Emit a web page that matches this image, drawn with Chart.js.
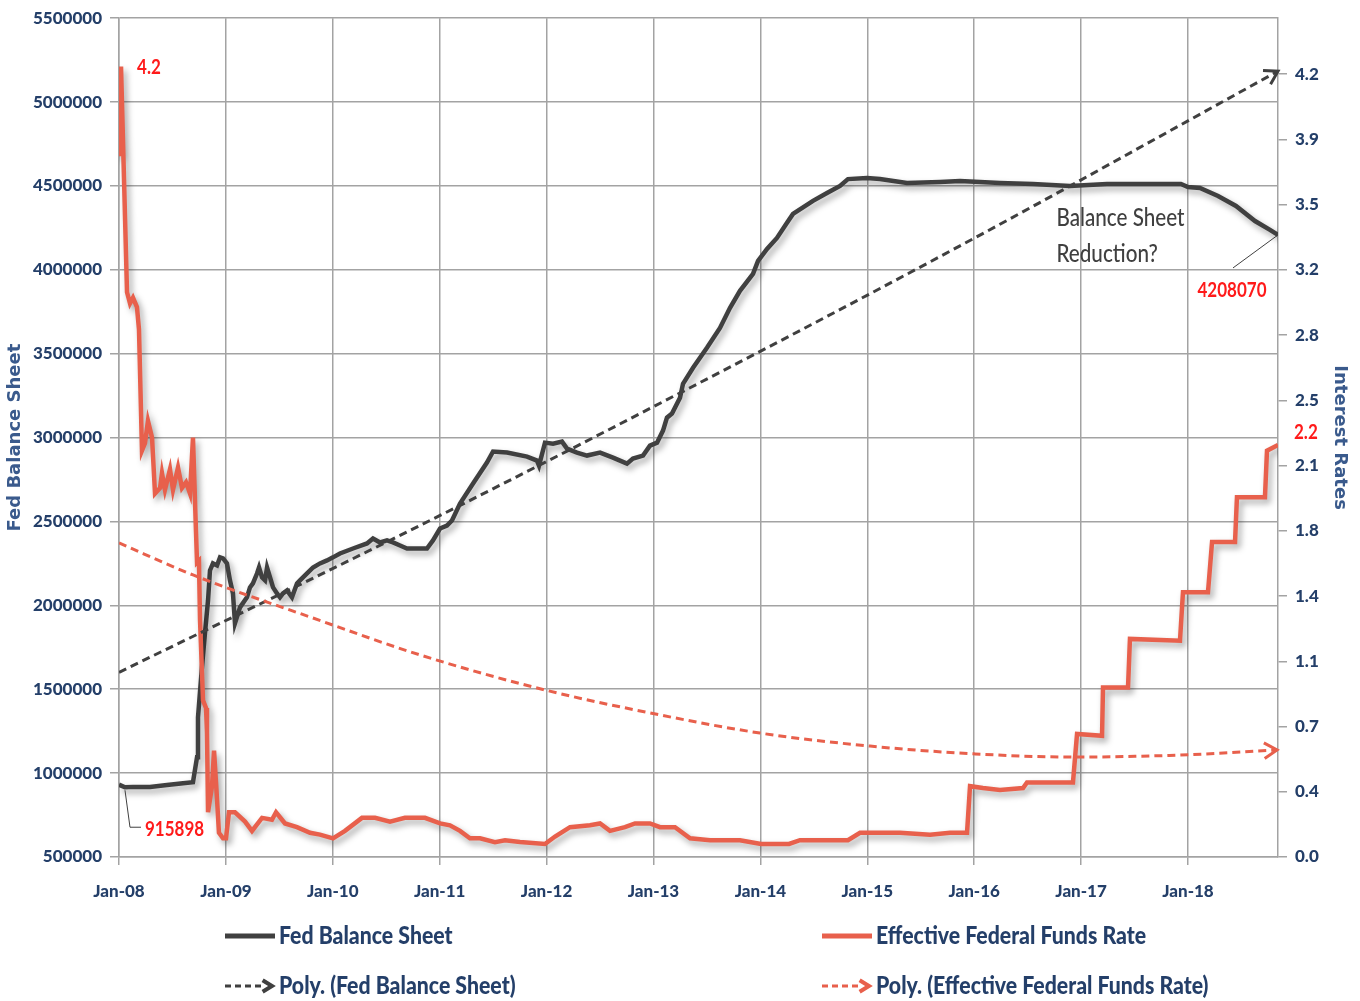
<!DOCTYPE html>
<html>
<head>
<meta charset="utf-8">
<title>Fed Balance Sheet vs Effective Federal Funds Rate</title>
<script src="https://cdn.jsdelivr.net/npm/chart.js@4.4.1/dist/chart.umd.min.js"></script>
<style>
  html, body { margin: 0; padding: 0; background: #fff; }
  #wrap { width: 1360px; height: 1001px; }
</style>
</head>
<body>
<div id="wrap"><canvas id="myChart" width="1360" height="1001"></canvas></div>
<script>
"use strict";

// Fed balance sheet (millions), x = decimal year
const fedYears = [
  2008.000, 2008.056, 2008.131, 2008.290, 2008.449, 2008.599, 2008.692, 2008.730, 2008.739, 2008.776,
  2008.804, 2008.833, 2008.851, 2008.879, 2008.917, 2008.945, 2008.973, 2009.010, 2009.038, 2009.066,
  2009.085, 2009.132, 2009.197, 2009.225, 2009.253, 2009.291, 2009.310, 2009.338, 2009.366, 2009.385,
  2009.413, 2009.441, 2009.478, 2009.506, 2009.534, 2009.572, 2009.618, 2009.665, 2009.693, 2009.759,
  2009.815, 2009.880, 2009.946, 2010.002, 2010.067, 2010.189, 2010.320, 2010.376, 2010.442, 2010.507,
  2010.563, 2010.629, 2010.694, 2010.816, 2010.881, 2010.937, 2011.003, 2011.068, 2011.115, 2011.190,
  2011.312, 2011.442, 2011.499, 2011.630, 2011.817, 2011.910, 2011.929, 2011.985, 2012.060, 2012.144,
  2012.191, 2012.284, 2012.378, 2012.500, 2012.621, 2012.752, 2012.808, 2012.902, 2012.967, 2013.033,
  2013.089, 2013.126, 2013.173, 2013.248, 2013.276, 2013.370, 2013.500, 2013.622, 2013.716, 2013.809,
  2013.931, 2013.978, 2014.062, 2014.155, 2014.249, 2014.305, 2014.492, 2014.623, 2014.745, 2014.819,
  2014.997, 2015.119, 2015.371, 2015.680, 2015.867, 2016.241, 2016.550, 2016.896, 2017.242, 2017.645,
  2017.934, 2018.000, 2018.112, 2018.281, 2018.449, 2018.627, 2018.767, 2018.842
];
const fedValues = [
  931000, 915898, 918000, 917000, 929000, 940000, 946000, 1095000, 1333000, 1631000,
  1833000, 2030000, 2208000, 2250000, 2238000, 2286000, 2280000, 2250000, 2149000, 2071000,
  1893000, 1988000, 2048000, 2107000, 2131000, 2190000, 2226000, 2167000, 2149000, 2226000,
  2167000, 2107000, 2071000, 2048000, 2071000, 2089000, 2048000, 2131000, 2149000, 2190000,
  2226000, 2250000, 2268000, 2286000, 2309000, 2339000, 2369000, 2399000, 2375000, 2387000,
  2375000, 2357000, 2339000, 2339000, 2339000, 2387000, 2458000, 2476000, 2506000, 2607000,
  2726000, 2851000, 2917000, 2911000, 2887000, 2863000, 2833000, 2970000, 2964000, 2976000,
  2934000, 2911000, 2893000, 2911000, 2881000, 2845000, 2875000, 2893000, 2952000, 2970000,
  3042000, 3119000, 3143000, 3238000, 3321000, 3416000, 3535000, 3654000, 3774000, 3875000,
  3976000, 4053000, 4125000, 4190000, 4280000, 4333000, 4411000, 4458000, 4500000, 4541000,
  4547000, 4541000, 4518000, 4524000, 4530000, 4518000, 4512000, 4500000, 4512000, 4512000,
  4512000, 4494000, 4488000, 4440000, 4381000, 4291000, 4238000, 4208070
];

// Effective federal funds rate (%)
const rateYears = [
  2008.000, 2008.019, 2008.075, 2008.103, 2008.131, 2008.168, 2008.187, 2008.215, 2008.243, 2008.271,
  2008.309, 2008.337, 2008.384, 2008.402, 2008.430, 2008.477, 2008.505, 2008.552, 2008.589, 2008.627,
  2008.664, 2008.692, 2008.720, 2008.730, 2008.748, 2008.758, 2008.786, 2008.814, 2008.823, 2008.833,
  2008.870, 2008.889, 2008.917, 2008.935, 2008.973, 2009.001, 2009.029, 2009.085, 2009.179, 2009.244,
  2009.338, 2009.431, 2009.469, 2009.553, 2009.665, 2009.787, 2009.880, 2010.002, 2010.114, 2010.273,
  2010.395, 2010.535, 2010.675, 2010.862, 2011.003, 2011.096, 2011.190, 2011.283, 2011.377, 2011.517,
  2011.611, 2011.751, 2011.985, 2012.079, 2012.219, 2012.406, 2012.500, 2012.593, 2012.733, 2012.827,
  2012.967, 2013.061, 2013.201, 2013.342, 2013.529, 2013.809, 2014.006, 2014.268, 2014.370, 2014.819,
  2014.932, 2015.306, 2015.587, 2015.774, 2015.933, 2015.961, 2016.082, 2016.241, 2016.457, 2016.494,
  2016.709, 2016.924, 2016.962, 2017.196, 2017.205, 2017.439, 2017.457, 2017.925, 2017.953, 2018.187,
  2018.225, 2018.440, 2018.458, 2018.720, 2018.739, 2018.842
];
const rateValues = [
  3.76, 4.24, 3.03, 2.97, 3.00, 2.95, 2.83, 2.18, 2.22, 2.34,
  2.25, 1.95, 1.98, 2.06, 1.97, 2.08, 1.97, 2.09, 1.98, 2.01,
  1.95, 2.25, 1.75, 1.58, 1.59, 1.27, 0.84, 0.80, 0.67, 0.24,
  0.38, 0.57, 0.31, 0.13, 0.10, 0.10, 0.24, 0.24, 0.19, 0.14,
  0.21, 0.20, 0.24, 0.18, 0.16, 0.13, 0.12, 0.10, 0.14, 0.21,
  0.21, 0.19, 0.21, 0.21, 0.18, 0.17, 0.14, 0.10, 0.10, 0.08,
  0.09, 0.08, 0.07, 0.11, 0.16, 0.17, 0.18, 0.14, 0.16, 0.18,
  0.18, 0.16, 0.16, 0.10, 0.09, 0.09, 0.07, 0.07, 0.09, 0.09,
  0.13, 0.13, 0.12, 0.13, 0.13, 0.38, 0.37, 0.36, 0.37, 0.40,
  0.40, 0.40, 0.66, 0.65, 0.91, 0.91, 1.17, 1.16, 1.42, 1.42,
  1.69, 1.69, 1.93, 1.93, 2.18, 2.21
];

// trendlines, points
const fedTrendYears = [2008.000, 2010.629, 2012.874, 2015.867, 2018.842];
const fedTrendValues = [1601000, 2417000, 3143000, 4143000, 5184000];
const rateTrendYears = [2008.000, 2008.692, 2009.815, 2010.816, 2011.985, 2012.967, 2013.996, 2015.025, 2016.008, 2016.943, 2017.925, 2018.833];
const rateTrendValues = [1.685, 1.513, 1.282, 1.084, 0.896, 0.773, 0.665, 0.595, 0.553, 0.536, 0.547, 0.574];

// axes
const xTickYears = [2008, 2009, 2010, 2011, 2012, 2013, 2014, 2015, 2016, 2017, 2018];
const xTickLabels = ['Jan-08', 'Jan-09', 'Jan-10', 'Jan-11', 'Jan-12', 'Jan-13', 'Jan-14', 'Jan-15', 'Jan-16', 'Jan-17', 'Jan-18'];
const rightTickValues = [0, 0.35, 0.7, 1.05, 1.4, 1.75, 2.1, 2.45, 2.8, 3.15, 3.5, 3.85, 4.2];
const rightTickLabels = ['0.0', '0.4', '0.7', '1.1', '1.4', '1.8', '2.1', '2.5', '2.8', '3.2', '3.5', '3.9', '4.2'];

const toPoints = (xs, ys) => xs.map((x, i) => ({ x: x, y: ys[i] }));

const DARK = '#404040';
const RED = '#e8604c';
const NAVY = '#243f69';
const GRID = '#a3a3a3';
const TICK_FONT = { family: 'Lato, "Liberation Sans", sans-serif', size: 17, weight: 900 };

// draw text squeezed horizontally, the original uses a narrow font
function squeezedText(ctx, text, x, y, font, color, align, squeeze) {
    ctx.save();
    ctx.font = font;
    ctx.fillStyle = color;
    ctx.textBaseline = 'middle';
    ctx.textAlign = align;
    ctx.translate(x, y);
    ctx.scale(squeeze, 1);
    ctx.fillText(text, 0, 0);
    ctx.restore();
}

function chevron(ctx, x, y, ang, size, color, width) {
    ctx.save();
    ctx.strokeStyle = color;
    ctx.lineWidth = width;
    ctx.setLineDash([]);
    ctx.lineJoin = 'miter';
    ctx.beginPath();
    ctx.moveTo(x - size * Math.cos(ang - 0.55), y - size * Math.sin(ang - 0.55));
    ctx.lineTo(x, y);
    ctx.lineTo(x - size * Math.cos(ang + 0.55), y - size * Math.sin(ang + 0.55));
    ctx.stroke();
    ctx.restore();
}

// soft shadow under the two solid series
const shadowPlugin = {
    id: 'lineShadow',
    beforeDatasetDraw(chart, args) {
        if (!chart.data.datasets[args.index].shadow) return;
        const ctx = chart.ctx;
        ctx.save();
        ctx.shadowColor = 'rgba(0,0,0,0.35)';
        ctx.shadowBlur = 6;
        ctx.shadowOffsetX = 3;
        ctx.shadowOffsetY = 4;
    },
    afterDatasetDraw(chart, args) {
        if (chart.data.datasets[args.index].shadow) chart.ctx.restore();
    }
};

// arrow heads at the end of the trendlines
const arrowPlugin = {
    id: 'trendArrows',
    afterDatasetsDraw(chart) {
        chart.data.datasets.forEach((ds, i) => {
            if (!ds.arrow) return;
            const pts = chart.getDatasetMeta(i).data;
            const a = pts[pts.length - 2];
            const b = pts[pts.length - 1];
            const ang = Math.atan2(b.y - a.y, b.x - a.x);
            chevron(chart.ctx, b.x, b.y, ang, 15, ds.borderColor, 3);
        });
    }
};

// data labels and the text note
const notesPlugin = {
    id: 'notes',
    afterDatasetsDraw(chart) {
        const ctx = chart.ctx;
        const x = chart.scales.x, yl = chart.scales.y, yr = chart.scales.y1;
        const redFont = 'bold 20px Lato, "Liberation Sans", sans-serif';

        // peak rate
        const px = x.getPixelForValue(rateYears[1]);
        const py = yr.getPixelForValue(rateValues[1]);
        squeezedText(ctx, '4.2', px + 16, py + 1, redFont, '#ff1a1a', 'left', 0.85);

        // first balance sheet value
        const fx = x.getPixelForValue(fedYears[1]);
        const fy = yl.getPixelForValue(fedValues[1]);
        ctx.save();
        ctx.strokeStyle = DARK;
        ctx.lineWidth = 1;
        ctx.beginPath();
        ctx.moveTo(fx, fy + 3);
        ctx.lineTo(fx + 5, fy + 40);
        ctx.lineTo(fx + 16, fy + 40);
        ctx.stroke();
        ctx.restore();
        squeezedText(ctx, String(fedValues[1]), fx + 20, fy + 42, redFont, '#ff1a1a', 'left', 0.85);

        // last balance sheet value
        const n = fedValues.length - 1;
        const lx = x.getPixelForValue(fedYears[n]);
        const ly = yl.getPixelForValue(fedValues[n]);
        ctx.save();
        ctx.strokeStyle = DARK;
        ctx.lineWidth = 1;
        ctx.beginPath();
        ctx.moveTo(lx, ly);
        ctx.lineTo(lx - 45, ly + 33);
        ctx.stroke();
        ctx.restore();
        squeezedText(ctx, String(fedValues[n]), lx - 46, ly + 56, redFont, '#ff1a1a', 'center', 0.85);

        // note
        const noteFont = '500 24px Lato, "Liberation Sans", sans-serif';
        const nx = x.getPixelForValue(2016.77);
        squeezedText(ctx, 'Balance Sheet', nx, yl.getPixelForValue(4309000), noteFont, '#404040', 'left', 0.86);
        squeezedText(ctx, 'Reduction?', nx, yl.getPixelForValue(4095000), noteFont, '#404040', 'left', 0.86);

        // last rate, on the right axis
        const m = rateValues.length - 1;
        squeezedText(ctx, String(rateValues[m].toFixed(1)), yr.left + 16, yr.getPixelForValue(rateValues[m]) - 13,
            redFont, '#ff1a1a', 'left', 0.85);
    }
};

// legend in two columns under the chart
const legendPlugin = {
    id: 'twoColumnLegend',
    afterDraw(chart) {
        const ctx = chart.ctx;
        const cols = [225, 822];
        const rows = [chart.height - 65, chart.height - 15];
        const font = '900 25px Lato, "Liberation Sans", sans-serif';
        chart.data.datasets.forEach((ds, i) => {
            const cx = cols[i % 2];
            const cy = rows[Math.floor(i / 2)];
            ctx.save();
            ctx.strokeStyle = ds.borderColor;
            if (ds.arrow) {
                ctx.lineWidth = 3;
                ctx.setLineDash([6, 4]);
                ctx.beginPath();
                ctx.moveTo(cx, cy);
                ctx.lineTo(cx + 40, cy);
                ctx.stroke();
                ctx.restore();
                chevron(ctx, cx + 47, cy, 0, 11, ds.borderColor, 4);
            } else {
                ctx.lineWidth = 5;
                ctx.beginPath();
                ctx.moveTo(cx, cy);
                ctx.lineTo(cx + 50, cy);
                ctx.stroke();
                ctx.restore();
            }
            squeezedText(ctx, ds.label, cx + 54, cy, font, NAVY, 'left', 0.85);
        });
    }
};

function createChart() {
    const ctx = document.getElementById('myChart');

    new Chart(ctx, {
        type: 'line',
        data: {
            datasets: [{
                label: 'Fed Balance Sheet',
                data: toPoints(fedYears, fedValues),
                yAxisID: 'y',
                borderColor: DARK,
                borderWidth: 4.5,
                pointRadius: 0,
                tension: 0,
                shadow: true,
                order: 3
            }, {
                label: 'Effective Federal Funds Rate',
                data: toPoints(rateYears, rateValues),
                yAxisID: 'y1',
                borderColor: RED,
                borderWidth: 4.5,
                pointRadius: 0,
                tension: 0,
                shadow: true,
                order: 2
            }, {
                label: 'Poly. (Fed Balance Sheet)',
                data: toPoints(fedTrendYears, fedTrendValues),
                yAxisID: 'y',
                borderColor: DARK,
                borderWidth: 3,
                borderDash: [8, 5],
                pointRadius: 0,
                cubicInterpolationMode: 'monotone',
                arrow: true,
                order: 1
            }, {
                label: 'Poly. (Effective Federal Funds Rate)',
                data: toPoints(rateTrendYears, rateTrendValues),
                yAxisID: 'y1',
                borderColor: RED,
                borderWidth: 3,
                borderDash: [8, 5],
                pointRadius: 0,
                cubicInterpolationMode: 'monotone',
                arrow: true,
                order: 0
            }]
        },
        options: {
            responsive: false,
            animation: false,
            layout: { padding: { top: 18, left: 0, right: 0, bottom: 88 } },
            plugins: {
                legend: { display: false },
                tooltip: { enabled: false }
            },
            scales: {
                x: {
                    type: 'linear',
                    min: 2008,
                    max: fedYears[fedYears.length - 1],
                    afterBuildTicks: (axis) => { axis.ticks = xTickYears.map(v => ({ value: v })); },
                    afterFit: (axis) => { axis.height = 56; },
                    ticks: {
                        callback: (v, i) => xTickLabels[i],
                        autoSkip: false,
                        maxRotation: 0,
                        padding: 16,
                        color: NAVY,
                        font: TICK_FONT
                    },
                    grid: { color: GRID, lineWidth: 1.5, tickLength: 8 },
                    border: { color: GRID, width: 1.5 }
                },
                y: {
                    position: 'left',
                    min: 500000,
                    max: 5500000,
                    afterFit: (axis) => { axis.width = 119; },
                    ticks: {
                        stepSize: 500000,
                        callback: (v) => String(v),
                        padding: 8,
                        color: NAVY,
                        font: TICK_FONT
                    },
                    grid: { color: GRID, lineWidth: 1.5, tickLength: 9 },
                    border: { color: GRID, width: 1.5 },
                    title: {
                        display: true,
                        text: 'Fed Balance Sheet',
                        color: '#3a5a8c',
                        padding: { top: 5, bottom: 2 },
                        font: { family: '"DejaVu Sans", sans-serif', size: 18, weight: 'bold' }
                    }
                },
                y1: {
                    position: 'right',
                    min: 0,
                    max: 4.5,
                    afterBuildTicks: (axis) => { axis.ticks = rightTickValues.map(v => ({ value: v })); },
                    afterFit: (axis) => { axis.width = 82; },
                    ticks: {
                        callback: (v, i) => rightTickLabels[i],
                        padding: 8,
                        color: NAVY,
                        font: TICK_FONT
                    },
                    grid: { drawOnChartArea: false, color: GRID, lineWidth: 1.5, tickLength: 9 },
                    border: { color: GRID, width: 1.5 },
                    title: {
                        display: true,
                        text: 'Interest Rates',
                        color: '#3a5a8c',
                        padding: { top: 10, bottom: 2 },
                        font: { family: '"DejaVu Sans", sans-serif', size: 18, weight: 'bold' }
                    }
                }
            }
        },
        plugins: [shadowPlugin, arrowPlugin, notesPlugin, legendPlugin]
    });
}

createChart();
</script>
</body>
</html>
